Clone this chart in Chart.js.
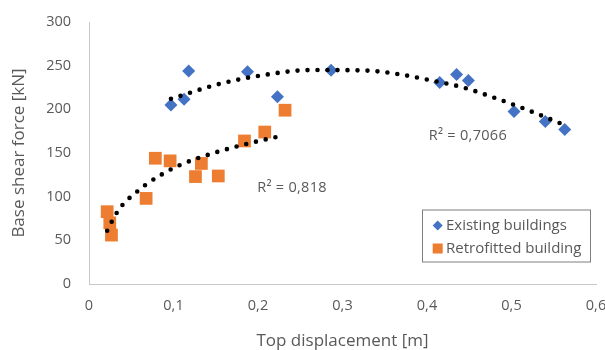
<!DOCTYPE html>
<html><head><meta charset="utf-8">
<script src="https://cdn.jsdelivr.net/npm/chart.js@4"></script>
<style>html,body{margin:0;padding:0;background:#fff;}#wrap{width:605px;height:350px;position:relative;}</style>
</head><body><div id="wrap"><canvas id="c" width="605" height="350"></canvas></div>
<script>
// ---- data ----
const existingX = [0.097, 0.1125, 0.118, 0.1876, 0.223, 0.2865, 0.415, 0.435, 0.449, 0.503, 0.540, 0.563];
const existingY = [205, 211.6, 244, 243, 214.5, 244.8, 230.6, 240, 233, 197.4, 186, 177];
const retrofitX = [0.0215, 0.0246, 0.0266, 0.0676, 0.0785, 0.096, 0.126, 0.133, 0.153, 0.184, 0.208, 0.232];
const retrofitY = [82.8, 70, 56, 98, 144, 141, 123, 138, 123.7, 163.8, 174, 199];
const existingTrendX = [0.097, 0.154, 0.208, 0.263, 0.3255, 0.365, 0.403, 0.443, 0.482, 0.521, 0.563];
const existingTrendY = [212, 229, 239.5, 245, 244.5, 240.5, 233.5, 225, 212.5, 198.5, 182];
const retrofitTrendX = [0.0215, 0.03, 0.04, 0.056, 0.0676, 0.087, 0.107, 0.146, 0.185, 0.229];
const retrofitTrendY = [61, 77, 91, 105, 114, 126, 136, 149.5, 160, 170];
const xTickLabels = ['0', '0,1', '0,2', '0,3', '0,4', '0,5', '0,6'];
const yTickLabels = ['0', '50', '100', '150', '200', '250', '300'];
const seriesNames = ['Existing buildings', 'Retrofitted building'];
const r2Labels = ['R\u00B2 = 0,7066', 'R\u00B2 = 0,818'];
const xTitle = 'Top displacement [m]';
const yTitle = 'Base shear force [kN]';

const FONT = '"Open Sans", "Noto Sans", sans-serif';
const GREY = '#595959';
const BLUE = '#4472C4';
const ORANGE = '#ED7D31';

const pts = (xs, ys) => xs.map((x, i) => ({x, y: ys[i]}));

const overlay = {
  id: 'overlay',
  afterDraw(chart) {
    const {ctx, scales: {x, y}} = chart;
    ctx.save();
    ctx.font = '14.5px ' + FONT;
    ctx.letterSpacing = '0.3px';
    ctx.fillStyle = GREY;
    ctx.textBaseline = 'middle';
    ctx.textAlign = 'left';
    ctx.fillText(r2Labels[0], x.getPixelForValue(0.402), y.getPixelForValue(169.5));
    ctx.fillText(r2Labels[1], x.getPixelForValue(0.199), y.getPixelForValue(110));
    ctx.letterSpacing = '0px';
    // legend
    const L = 422, T = 209.5, W = 168, H = 52;
    ctx.fillStyle = '#fff';
    ctx.fillRect(L, T, W, H);
    ctx.strokeStyle = '#7f7f7f';
    ctx.lineWidth = 1;
    ctx.strokeRect(L + 0.5, T + 0.5, W, H);
    const row1 = 225.5, row2 = 248.5, mx = 437.7;
    ctx.fillStyle = BLUE;
    ctx.beginPath();
    ctx.moveTo(mx, row1 - 5); ctx.lineTo(mx + 5, row1); ctx.lineTo(mx, row1 + 5); ctx.lineTo(mx - 5, row1);
    ctx.closePath(); ctx.fill();
    ctx.fillStyle = ORANGE;
    ctx.fillRect(mx - 5, row2 - 5, 10, 10);
    ctx.fillStyle = GREY;
    ctx.font = '15px ' + FONT;
    ctx.fillText(seriesNames[0], 446, row1);
    ctx.fillText(seriesNames[1], 446, row2);
    ctx.restore();
  }
};

new Chart(document.getElementById('c'), {
  type: 'scatter',
  data: {
    datasets: [
      {label: 'trendExisting', data: pts(existingTrendX, existingTrendY), showLine: true,
       borderColor: '#000', borderWidth: 4.6, borderDash: [0, 10], borderCapStyle: 'round',
       pointRadius: 0, tension: 0.4, cubicInterpolationMode: 'monotone', order: 0},
      {label: 'trendRetrofit', data: pts(retrofitTrendX, retrofitTrendY), showLine: true,
       borderColor: '#000', borderWidth: 4.6, borderDash: [0, 10], borderCapStyle: 'round',
       pointRadius: 0, tension: 0.4, cubicInterpolationMode: 'monotone', order: 0},
      {label: seriesNames[0], data: pts(existingX, existingY), pointStyle: 'rectRot',
       pointRadius: 6.5, backgroundColor: BLUE, borderColor: BLUE, borderWidth: 0, order: 1},
      {label: seriesNames[1], data: pts(retrofitX, retrofitY), pointStyle: 'rect',
       pointRadius: 9, backgroundColor: ORANGE, borderColor: ORANGE, borderWidth: 0, order: 1}
    ]
  },
  options: {
    responsive: false,
    animation: false,
    devicePixelRatio: 1,
    layout: {padding: {top: 22, right: 8.5, left: 0, bottom: 0}},
    plugins: {legend: {display: false}, tooltip: {enabled: false}},
    scales: {
      x: {
        type: 'linear', min: 0, max: 0.6,
        grid: {display: false, drawTicks: false},
        border: {display: true, color: '#c8c8c8', width: 1},
        ticks: {stepSize: 0.1, color: GREY, font: {family: FONT, size: 14.5}, padding: 13,
                callback: (v, i) => xTickLabels[i]},
        title: {display: true, text: xTitle, color: GREY, font: {family: FONT, size: 17}, padding: {top: 4, bottom: -1}},
        afterFit: s => { s.height = 66; s.paddingLeft = 0; s.paddingRight = 0; }
      },
      y: {
        min: 0, max: 300,
        grid: {display: false, drawTicks: false},
        border: {display: true, color: '#c8c8c8', width: 1},
        ticks: {stepSize: 50, color: GREY, font: {family: FONT, size: 14.5}, padding: 18,
                callback: (v, i) => yTickLabels[i]},
        title: {display: true, text: yTitle, color: GREY, font: {family: FONT, size: 17}, padding: {top: 9, bottom: 0}},
        afterFit: s => { s.width = 89; s.paddingTop = 0; s.paddingBottom = 0; }
      }
    }
  },
  plugins: [overlay]
});
</script></body></html>
